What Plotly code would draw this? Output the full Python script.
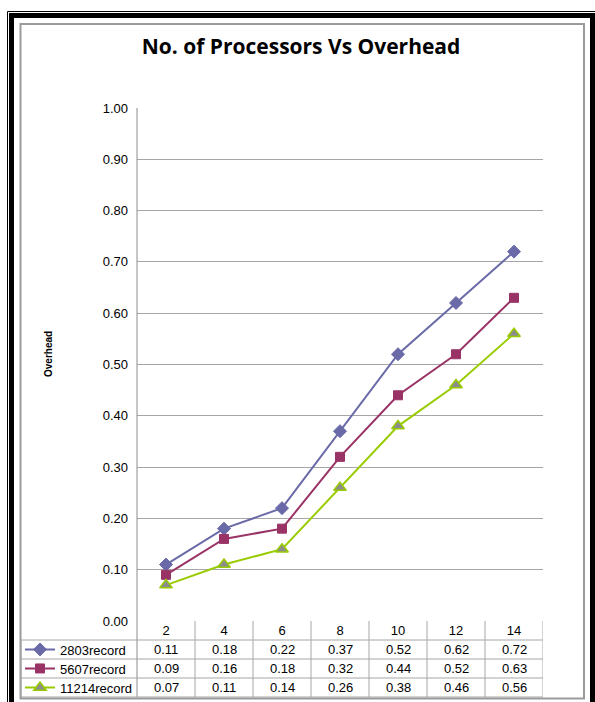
import plotly.graph_objects as go

# Number of processors (categories) and measured overhead per data-set size
processors = ["2", "4", "6", "8", "10", "12", "14"]
series_names = ["2803record", "5607record", "11214record"]
overhead_2803 = [0.11, 0.18, 0.22, 0.37, 0.52, 0.62, 0.72]
overhead_5607 = [0.09, 0.16, 0.18, 0.32, 0.44, 0.52, 0.63]
overhead_11214 = [0.07, 0.11, 0.14, 0.26, 0.38, 0.46, 0.56]
y_ticks = [0.0, 0.1, 0.2, 0.3, 0.4, 0.5, 0.6, 0.7, 0.8, 0.9, 1.0]

W, H = 595, 702
FONT = "Liberation Sans, Arial, sans-serif"


def px(x):
    return x / W


def py(y):
    return 1 - y / H


# plot area in pixels
PL, PR, PT, PB = 137, 543, 108, 621
ROW_Y = [640, 659, 678, 697]  # table row boundaries

styles = [
    dict(color="#6a6aa8", symbol="diamond", size=10, line=dict(color="#6a6aa8", width=1)),
    dict(color="#993366", symbol="square", size=9, line=dict(color="#993366", width=1)),
    dict(color="#8c8c8c", symbol="triangle-up", size=11, line=dict(color="#99cc00", width=1.5)),
]
line_colors = ["#6a6aa8", "#993366", "#99cc00"]
all_series = [overhead_2803, overhead_5607, overhead_11214]
legend_ids = ["legend", "legend2", "legend3"]

fig = go.Figure()
for name, vals, st, lc, lg in zip(series_names, all_series, styles, line_colors, legend_ids):
    fig.add_trace(go.Scatter(
        x=processors, y=vals, name=name, mode="lines+markers",
        line=dict(color=lc, width=2), marker=st, legend=lg,
        cliponaxis=False, showlegend=True,
    ))

shapes = []
grey = "#a6a6a6"
# outer double black frame
shapes.append(dict(type="rect", xref="paper", yref="paper",
                   x0=px(7.5), x1=px(600), y0=py(11.5), y1=py(720),
                   line=dict(color="black", width=1)))
shapes.append(dict(type="rect", xref="paper", yref="paper",
                   x0=px(11.5), x1=px(592.5), y0=py(15.5), y1=py(720),
                   line=dict(color="black", width=5)))
# inner grey chart border
shapes.append(dict(type="rect", xref="paper", yref="paper",
                   x0=px(20.5), x1=px(584), y0=py(24), y1=py(698.5),
                   line=dict(color="#9a9a9a", width=2)))
# vertical axis line continuing through the data table
shapes.append(dict(type="line", xref="paper", yref="paper",
                   x0=px(PL), x1=px(PL), y0=py(PT), y1=py(ROW_Y[-1]),
                   line=dict(color="#8c8c8c", width=1)))
# table horizontal rules
for ry in ROW_Y:
    shapes.append(dict(type="line", xref="paper", yref="paper",
                       x0=px(21), x1=px(PR), y0=py(ry), y1=py(ry),
                       line=dict(color=grey, width=1)))
shapes.append(dict(type="line", xref="paper", yref="paper",
                   x0=px(21), x1=px(21), y0=py(ROW_Y[0]), y1=py(ROW_Y[-1]),
                   line=dict(color=grey, width=1)))
# table column separators at category boundaries
for k in range(1, len(processors) + 1):
    shapes.append(dict(type="line", xref="x", yref="paper",
                       x0=k - 0.5, x1=k - 0.5, y0=py(PB), y1=py(ROW_Y[-1]),
                       line=dict(color=grey, width=1)))

annotations = []
# table cell values, one column per processor count
for r, vals in enumerate(all_series):
    yc = (ROW_Y[r] + ROW_Y[r + 1]) / 2
    for i, v in enumerate(vals):
        annotations.append(dict(x=i, xref="x", y=py(yc), yref="paper",
                                xanchor="center", yanchor="middle",
                                text=f"{v:.2f}", showarrow=False,
                                font=dict(family=FONT, size=13, color="#000000")))
# y-axis title
annotations.append(dict(x=px(48), y=py(354), xref="paper", yref="paper",
                        xanchor="center", yanchor="middle",
                        text="<b>Overhead</b>", textangle=-90, showarrow=False,
                        font=dict(family=FONT, size=10, color="#000000")))

legends = {}
for r, lg in enumerate(legend_ids):
    yc = (ROW_Y[r] + ROW_Y[r + 1]) / 2
    legends[lg] = dict(x=px(20), y=py(yc), xanchor="left", yanchor="middle",
                       bgcolor="rgba(0,0,0,0)", borderwidth=0,
                       font=dict(family=FONT, size=13, color="#000000"),
                       itemwidth=30, visible=True)

fig.update_layout(
    width=W, height=H,
    margin=dict(l=0, r=0, t=0, b=0, autoexpand=False),
    showlegend=True,
    paper_bgcolor="white", plot_bgcolor="white",
    title=dict(text="<b>No. of Processors Vs Overhead</b>", x=px(301), xanchor="center",
               y=py(47), yanchor="middle",
               font=dict(family="Open Sans, sans-serif", size=21, color="#000000")),
    xaxis=dict(domain=[px(PL), px(PR)], type="category", range=[-0.5, len(processors) - 0.5],
               showgrid=False, showline=False, zeroline=False, ticks="",
               tickfont=dict(family=FONT, size=13, color="#000000")),
    yaxis=dict(domain=[py(PB), py(PT)], range=[0, 1], tickvals=y_ticks,
               tickformat=".2f", showgrid=True, gridcolor=grey, gridwidth=1,
               showline=False, zeroline=False, ticks="", ticklabelstandoff=8,
               tickfont=dict(family=FONT, size=13, color="#000000")),
    shapes=shapes,
    annotations=annotations,
    **legends,
)

fig.write_html("out.html")
